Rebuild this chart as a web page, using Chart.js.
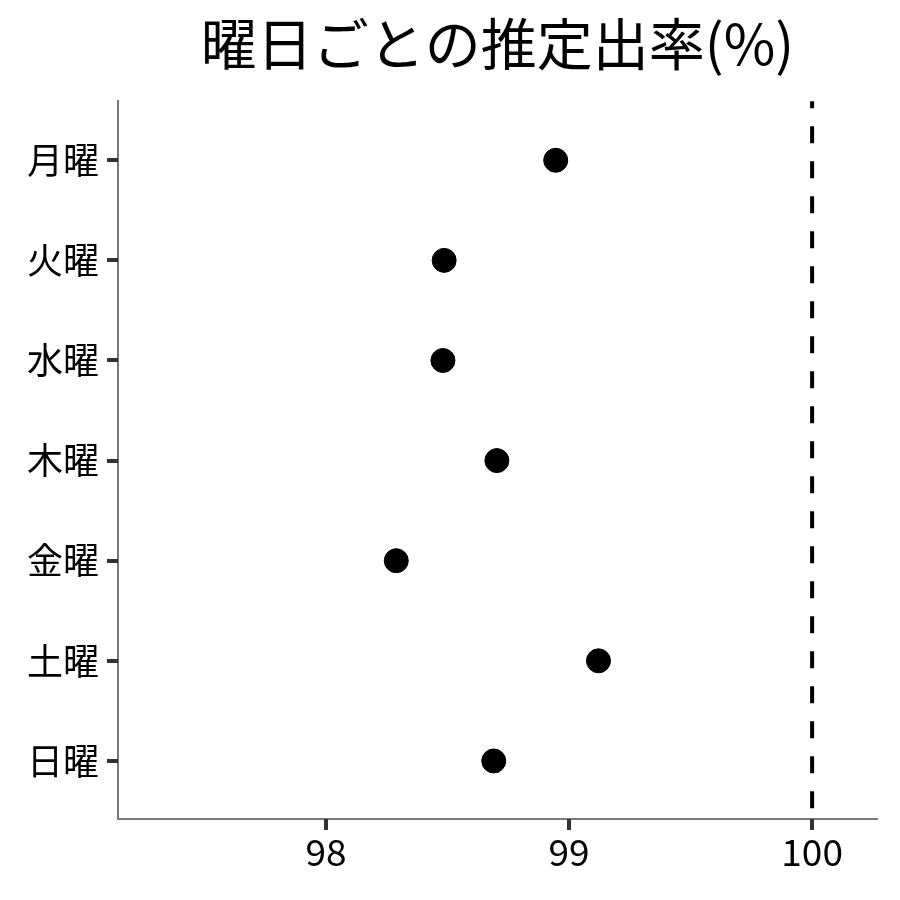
<!DOCTYPE html>
<html>
<head>
<meta charset="utf-8">
<script src="https://cdn.jsdelivr.net/npm/chart.js@4/dist/chart.umd.min.js"></script>
<style>
  html, body { margin: 0; padding: 0; background: #fff; }
  #wrap { width: 900px; height: 900px; }
</style>
</head>
<body>
<div id="wrap"><canvas id="myChart" width="900" height="900"></canvas></div>
<script>
var days = ["月曜", "火曜", "水曜", "木曜", "金曜", "土曜", "日曜"];
var rates = [98.945, 98.486, 98.481, 98.703, 98.289, 99.121, 98.690];
var xTicks = [98, 99, 100];
var refValue = 100;

var fontFamily = "'Noto Sans CJK JP', 'Noto Sans', sans-serif";
var tickLen = 11;

// dashed reference line at 100% plus the outside tick marks
var refLine = {
  id: 'refLine',
  afterDatasetsDraw: function(chart) {
    var xs = chart.scales.x, ys = chart.scales.y;
    var area = chart.chartArea;
    var ctx = chart.ctx;
    ctx.save();
    ctx.strokeStyle = '#333';
    ctx.lineWidth = 4;
    ctx.beginPath();
    xs.ticks.forEach(function(t) {
      var px = Math.round(xs.getPixelForValue(t.value));
      ctx.moveTo(px, area.bottom);
      ctx.lineTo(px, area.bottom + tickLen);
    });
    ys.ticks.forEach(function(t) {
      var py = Math.round(ys.getPixelForValue(t.value));
      ctx.moveTo(area.left, py);
      ctx.lineTo(area.left - tickLen, py);
    });
    ctx.stroke();

    var x = xs.getPixelForValue(refValue);
    ctx.strokeStyle = '#000';
    ctx.lineWidth = 4;
    ctx.setLineDash([17, 18]);
    ctx.lineDashOffset = 10;
    ctx.beginPath();
    ctx.moveTo(x, area.top);
    ctx.lineTo(x, area.bottom);
    ctx.stroke();
    ctx.restore();
  }
};

var ctx = document.getElementById("myChart");
var myChart = new Chart(ctx, {
  type: 'scatter',
  data: {
    datasets: [{
      label: "推定出率",
      data: rates.map(function(v, i) { return {x: v, y: i}; }),
      backgroundColor: '#000',
      borderColor: '#000',
      pointRadius: 12,
      pointHoverRadius: 12
    }]
  },
  options: {
    responsive: false,
    animation: false,
    layout: { padding: { top: 0, right: 23, bottom: 0, left: 0 } },
    plugins: {
      legend: { display: false },
      tooltip: { enabled: false },
      title: {
        display: true,
        fullSize: false,
        text: "曜日ごとの推定出率(%)",
        color: '#000',
        font: { family: fontFamily, size: 56, weight: 'normal' },
        padding: { top: 10, bottom: 24 }
      }
    },
    scales: {
      x: {
        type: 'linear',
        min: 97.144,
        max: 100.267,
        afterBuildTicks: function(scale) {
          scale.ticks = xTicks.map(function(v) { return {value: v}; });
        },
        afterFit: function(scale) { scale.height = 81; },
        border: { display: true, color: '#7a7a7a', width: 2 },
        grid: { display: false },
        ticks: {
          color: '#000',
          padding: 3,
          font: { family: fontFamily, size: 37 }
        }
      },
      y: {
        type: 'linear',
        reverse: true,
        min: -0.59,
        max: 6.58,
        afterBuildTicks: function(scale) {
          scale.ticks = days.map(function(d, i) { return {value: i}; });
        },
        afterFit: function(scale) { scale.width = 118; },
        border: { display: true, color: '#7a7a7a', width: 2 },
        grid: { display: false },
        ticks: {
          color: '#000',
          padding: 11,
          font: { family: fontFamily, size: 36 },
          callback: function(value) { return days[value]; }
        }
      }
    }
  },
  plugins: [refLine]
});
</script>
</body>
</html>
